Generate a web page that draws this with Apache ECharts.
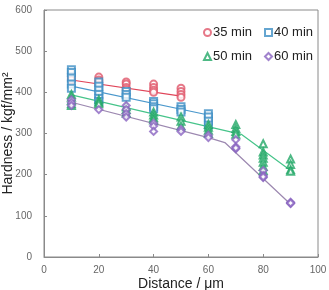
<!DOCTYPE html>
<html><head><meta charset="utf-8">
<script src="https://cdn.jsdelivr.net/npm/echarts@6/dist/echarts.min.js"></script>
<style>html,body{margin:0;padding:0;background:#fff}#c{width:329px;height:290px}</style>
</head><body><div id="c"></div>
<script>
const xTicks = [0, 20, 40, 60, 80, 100];
const yTicks = [0, 100, 200, 300, 400, 500, 600];
const seriesNames = ['35 min', '40 min', '50 min', '60 min'];

// measured points [distance, hardness]
const pts35 = [[10,445],[10,438],[10,430],[20,437],[20,430],[20,425],[20,418],[30,425],[30,420],[30,412],[30,407],[40,420],[40,412],[40,405],[40,400],[50,410],[50,402],[50,395],[50,388]];
const pts40 = [[10,455],[10,448],[10,435],[10,420],[10,410],[20,425],[20,415],[20,405],[20,395],[20,385],[20,378],[30,402],[30,395],[30,388],[40,378],[40,372],[40,365],[40,360],[50,365],[50,358],[50,352],[60,348],[60,340],[60,330],[60,320]];
const pts50 = [[10,395],[10,388],[10,380],[10,372],[10,368],[20,382],[20,376],[20,372],[30,365],[30,358],[30,350],[40,352],[40,345],[40,338],[40,333],[50,340],[50,330],[50,318],[60,322],[60,315],[60,308],[60,300],[70,322],[70,312],[70,305],[70,298],[80,275],[80,255],[80,248],[80,240],[80,230],[80,220],[80,210],[90,238],[90,225],[90,212],[90,208]];
const pts60 = [[10,382],[10,375],[10,368],[20,358],[30,368],[30,358],[30,348],[30,340],[40,325],[40,318],[40,305],[50,310],[50,305],[60,296],[60,290],[70,285],[70,268],[70,263],[70,265],[80,210],[80,198],[80,193],[80,195],[90,133],[90,130],[90,131]];

// fitted trend lines
const fit35 = [[10,430],[50,391]];
const fit40 = [[10,415],[60,345]];
const fit50 = [[10,394],[72,298],[90,210]];
const fit60 = [[10,376],[60,290],[66,278],[90,128]];

const markerColors = ['#e0566a', '#3d8fc4', '#22a866', '#8a64c0'];
const lineColors = ['#e04458', '#4a98cc', '#46c48a', '#9c88b0'];
const symbols = ['emptyCircle', 'emptyRect', 'emptyTriangle', 'emptyDiamond'];
const pts = [pts35, pts40, pts50, pts60];
const fits = [fit35, fit40, fit50, fit60];

const series = [];
fits.forEach((f, i) => series.push({
  type: 'line', data: f, symbol: 'none', silent: true,
  lineStyle: { color: lineColors[i], width: 1.2 }, z: 1
}));
pts.forEach((p, i) => series.push({
  name: seriesNames[i], type: 'scatter', data: p, symbol: symbols[i], symbolSize: 7,
  itemStyle: { color: markerColors[i], borderWidth: 1 }, z: 2
}));

const font = 'Liberation Sans, Arial, sans-serif';
const legendText = { fontFamily: font, fontSize: 13, color: '#222', padding: [0,0,0,-3] };
const chart = echarts.init(document.getElementById('c'), null, { renderer: 'canvas' });
chart.setOption({
  animation: false,
  grid: { left: 44, right: 11, top: 10, bottom: 33, outerBoundsMode: 'none', containLabel: false,
          show: true, borderColor: '#8a8a8a', borderWidth: 1 },
  legend: [
    { data: [seriesNames[0], seriesNames[1]], left: 203, top: 26, itemWidth: 7, itemHeight: 7, itemGap: 12, padding: 0,
      textStyle: legendText },
    { data: [seriesNames[2], seriesNames[3]], left: 203, top: 50, itemWidth: 7, itemHeight: 7, itemGap: 12, padding: 0,
      textStyle: legendText }
  ],
  xAxis: {
    type: 'value', min: xTicks[0], max: xTicks[xTicks.length - 1], interval: 20,
    name: 'Distance / μm', nameLocation: 'middle', nameGap: 20, nameMoveOverlap: false,
    nameTextStyle: { fontFamily: font, fontSize: 14, color: '#222', verticalAlign: 'top' },
    axisLine: { lineStyle: { color: '#8a8a8a' } },
    axisTick: { inside: true, length: 3, lineStyle: { color: '#8a8a8a' } },
    axisLabel: { fontFamily: font, fontSize: 10, color: '#666', margin: 8 },
    splitLine: { show: false }
  },
  yAxis: {
    type: 'value', min: yTicks[0], max: yTicks[yTicks.length - 1], interval: 100,
    name: 'Hardness / kgf/mm²', nameLocation: 'middle', nameGap: 29, nameMoveOverlap: false,
    nameTextStyle: { fontFamily: font, fontSize: 14, color: '#222' },
    axisLine: { show: true, lineStyle: { color: '#8a8a8a' } },
    axisTick: { show: true, inside: true, length: 3, lineStyle: { color: '#8a8a8a' } },
    axisLabel: { fontFamily: font, fontSize: 10, color: '#666', margin: 12 },
    splitLine: { show: false }
  },
  series: series
});
</script></body></html>
